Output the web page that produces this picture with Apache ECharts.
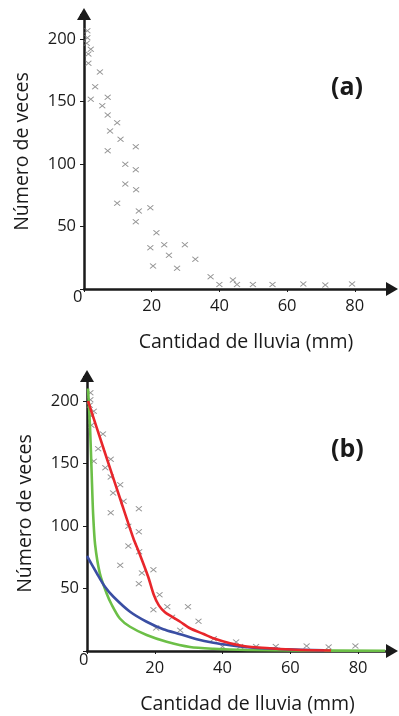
<!DOCTYPE html>
<html>
<head>
<meta charset="utf-8">
<script src="https://cdn.jsdelivr.net/npm/echarts@6/dist/echarts.min.js"></script>
<style>
  html, body { margin: 0; padding: 0; background: #fff; }
  #chart { width: 399px; height: 716px; }
</style>
</head>
<body>
<div id="chart"></div>
<script>
// observed rainfall (mm) and number of times
const rainX = [1.0, 1.0, 0.8, 2.0, 1.3, 1.3, 4.7, 3.3, 2.0, 7.0, 5.4, 7.0, 9.8, 7.7, 10.8, 7.0, 15.3, 12.2, 15.3, 12.2, 15.4,
  9.8, 16.2, 19.6, 15.3, 21.4, 19.6, 23.7, 29.8, 25.1, 20.4, 27.5, 32.9, 37.4, 40.0, 44.0, 45.2, 49.9, 55.7, 64.8, 71.3, 79.2];
const rainY = [206.6, 201, 196.6, 191.8, 188, 180.6, 173.6, 161.8, 151.8, 153.4, 146.6, 139.2, 133, 126.4, 119.8, 110.6, 113.8, 99.8, 95.4, 84, 79.4,
  68.6, 62.4, 65, 53.8, 45, 33, 35.4, 35.4, 27, 18.4, 16.6, 23.8, 9.8, 3.6, 7.2, 3.6, 3.6, 3.6, 4, 3.2, 4];

// fitted curves in (b)
const redX = [0.3, 5, 10, 13.7, 15.2, 18.1, 19.7, 21.2, 23, 25, 27.5, 30.4, 34.4, 37.3, 42.2, 47.2, 57, 63, 72];
const redY = [200, 161, 120, 90, 80, 59, 45, 36.5, 31, 27.5, 23.4, 18.2, 13.6, 10.2, 6.2, 3.6, 1.6, 0.8, 0.4];
const blueX = [0, 2.9, 5.3, 7.8, 12.7, 17.6, 22.5, 27.5, 32.4, 37.3, 42.2, 47.2, 57, 70];
const blueY = [76, 62.2, 51.4, 43.4, 31.4, 23.4, 17.4, 13.4, 9.4, 6.6, 4.6, 3, 1.6, 0.5];
const greenX = [0.3, 0.9, 1.4, 1.8, 2.4, 3.8, 5.8, 7.3, 9.7, 12.7, 17.6, 23.5, 30.4, 37.3, 47.2, 60, 88];
const greenY = [210, 179, 140, 110, 85, 62, 46, 37, 26, 19.4, 12.8, 7.4, 3.2, 1.8, 0.8, 0.4, 0.2];

const yTicks = [50, 100, 150, 200];
const xTicks = [20, 40, 60, 80];

const zip = (xs, ys) => xs.map((x, i) => [x, ys[i]]);

const FONT = '"Open Sans", "Noto Sans", sans-serif';
const INK = '#1a1a1a';

function xAxisFor(gridIndex, max) {
  return {
    gridIndex, type: 'value', min: 0, max, interval: 20,
    name: 'Cantidad de lluvia (mm)', nameLocation: 'middle', nameGap: 43,
    nameTextStyle: { fontFamily: FONT, fontSize: 19.5, color: INK, padding: [0, 0, 0, 16] },
    splitLine: { show: false },
    axisLine: { lineStyle: { color: INK, width: 2.5 }, symbol: ['none', 'triangle'], symbolSize: [14, 12] },
    axisTick: { length: 3, lineStyle: { color: INK } },
    axisLabel: {
      fontFamily: FONT, fontSize: 16.5, color: INK, margin: 9,
      formatter: v => xTicks.includes(v) ? String(v) : ''
    }
  };
}

function yAxisFor(gridIndex) {
  return {
    gridIndex, type: 'value', min: 0, max: 220, interval: 50,
    name: 'Número de veces', nameLocation: 'middle', nameGap: 52,
    nameTextStyle: { fontFamily: FONT, fontSize: 19.5, color: INK },
    splitLine: { show: false },
    axisLine: { lineStyle: { color: INK, width: 2.5 }, symbol: ['none', 'triangle'], symbolSize: [14, 12] },
    axisTick: { length: 4, lineStyle: { color: INK } },
    axisLabel: {
      fontFamily: FONT, fontSize: 16.5, color: INK, margin: 8,
      formatter: v => yTicks.includes(v) ? String(v) : ''
    }
  };
}

function crosses(i) {
  return {
    type: 'scatter', xAxisIndex: i, yAxisIndex: i,
    data: zip(rainX, rainY),
    symbol: 'path://M0,0L10,10M10,0L0,10',
    symbolSize: [6, 5],
    itemStyle: { color: 'none', borderColor: '#777', borderWidth: 1.1 },
    z: 2
  };
}

function curve(xs, ys, color) {
  return {
    type: 'line', xAxisIndex: 1, yAxisIndex: 1,
    data: zip(xs, ys), smooth: 0.25, showSymbol: false,
    lineStyle: { color, width: 2.6 }, z: 3
  };
}

const chart = echarts.init(document.getElementById('chart'));
chart.setOption({
  animation: false,
  backgroundColor: '#fff',
  grid: [
    { left: 84, top: 14, width: 308, height: 275 },
    { left: 87, top: 376, width: 305, height: 275 }
  ],
  xAxis: [xAxisFor(0, 91), xAxisFor(1, 90)],
  yAxis: [yAxisFor(0), yAxisFor(1)],
  graphic: [
    { type: 'text', left: 73, top: 289, style: { text: '0', font: '16.5px ' + FONT, fill: INK } },
    { type: 'text', left: 79, top: 652, style: { text: '0', font: '16.5px ' + FONT, fill: INK } },
    { type: 'text', left: 331, top: 75, style: { text: '(a)', font: 'bold 25px ' + FONT, fill: INK } },
    { type: 'text', left: 331, top: 437, style: { text: '(b)', font: 'bold 25px ' + FONT, fill: INK } }
  ],
  series: [
    crosses(0),
    crosses(1),
    curve(greenX, greenY, '#6cbf47'),
    curve(blueX, blueY, '#3a4ea3'),
    curve(redX, redY, '#e8262b')
  ]
});
</script>
</body>
</html>
